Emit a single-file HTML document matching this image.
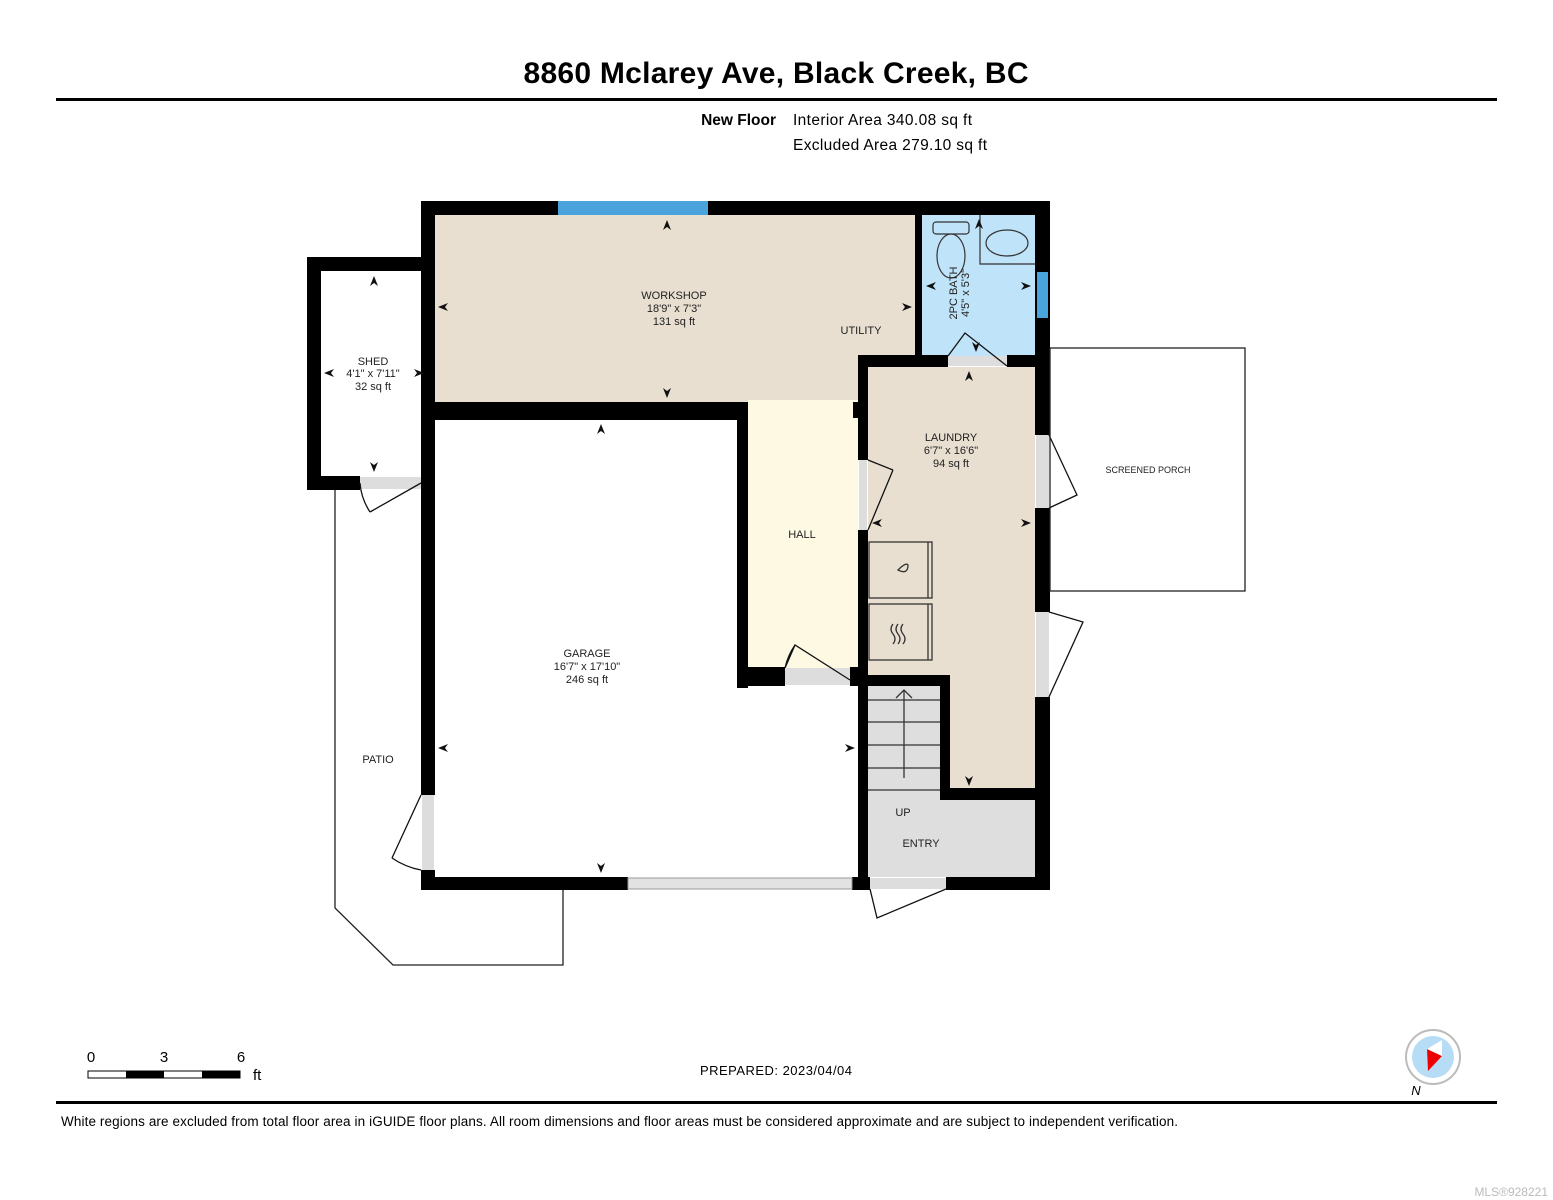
<!DOCTYPE html>
<html><head><meta charset="utf-8"><style>
html,body{margin:0;padding:0;background:#fff;}
svg{display:block;font-family:"Liberation Sans",Arial,sans-serif;}
</style></head><body>
<svg width="1553" height="1200" viewBox="0 0 1553 1200" xmlns="http://www.w3.org/2000/svg">
<text x="776" y="83" font-size="30" font-weight="bold" text-anchor="middle" textLength="505">8860 Mclarey Ave, Black Creek, BC</text>
<rect x="56" y="98" width="1441" height="3" fill="#000"/>
<text x="776" y="125" font-size="15.5" font-weight="bold" text-anchor="end">New Floor</text>
<text x="793" y="125" font-size="15.5" textLength="179">Interior Area 340.08 sq ft</text>
<text x="793" y="150" font-size="15.5" textLength="194">Excluded Area 279.10 sq ft</text>

<rect x="435" y="215" width="480" height="187" fill="#e8dfd0"/>
<rect x="748" y="400" width="110" height="268" fill="#fdf9e3"/>
<rect x="922" y="215" width="113" height="142" fill="#bfe3f8"/>
<rect x="868" y="367" width="167" height="423" fill="#e8dfd0"/>
<rect x="868" y="686" width="72" height="114" fill="#dedede"/>
<rect x="868" y="800" width="167" height="77" fill="#dedede"/>
<g stroke="#333" stroke-width="1.3" fill="none">
<line x1="868" y1="700" x2="940" y2="700"/><line x1="868" y1="722" x2="940" y2="722"/>
<line x1="868" y1="745" x2="940" y2="745"/><line x1="868" y1="768" x2="940" y2="768"/>
<line x1="868" y1="790" x2="940" y2="790"/>
<line x1="904" y1="778" x2="904" y2="690"/><polyline points="896,698 904,690 912,698"/>
</g>
<g stroke="#333" stroke-width="1.3" fill="#e8dfd0">
<rect x="869" y="542" width="63" height="56"/><line x1="928" y1="542" x2="928" y2="598"/>
<rect x="869" y="604" width="63" height="56"/><line x1="928" y1="604" x2="928" y2="660"/>
<path d="M898 570 q8 -8 10 -5 q0 10 -10 5z"/>
<path d="M893 624 q-4 5 0 10 q4 5 0 10 M898 624 q-4 5 0 10 q4 5 0 10 M903 624 q-4 5 0 10 q4 5 0 10" fill="none"/>
</g>
<g stroke="#333" stroke-width="1.2" fill="#bfe3f8">
<rect x="933" y="222" width="36" height="12" rx="3"/>
<ellipse cx="951" cy="256" rx="14" ry="22"/>
<polyline points="980,215 980,264 1035,264" fill="none"/>
<ellipse cx="1007" cy="243" rx="21" ry="13"/>
</g>
<g fill="#000">
<rect x="421" y="201" width="629" height="14"/>
<rect x="1035" y="201" width="15" height="234"/>
<rect x="1035" y="508" width="15" height="104"/>
<rect x="1035" y="697" width="15" height="193"/>
<rect x="421" y="201" width="14" height="219"/>
<rect x="307" y="257" width="128" height="14"/>
<rect x="307" y="257" width="14" height="233"/>
<rect x="307" y="476" width="53" height="14"/>
<rect x="421" y="420" width="14" height="375"/>
<rect x="421" y="870" width="14" height="20"/>
<rect x="421" y="877" width="207" height="13"/>
<rect x="852" y="877" width="18" height="13"/>
<rect x="946" y="877" width="104" height="13"/>
<rect x="435" y="402" width="313" height="18"/>
<rect x="737" y="402" width="11" height="286"/>
<rect x="737" y="667" width="48" height="19"/>
<rect x="850" y="667" width="18" height="19"/>
<rect x="915" y="215" width="7" height="142"/>
<rect x="860" y="355" width="88" height="12"/>
<rect x="1007" y="355" width="28" height="12"/>
<rect x="858" y="355" width="10" height="105"/>
<rect x="853" y="402" width="6" height="16"/>
<rect x="858" y="530" width="10" height="360"/>
<rect x="858" y="675" width="92" height="11"/>
<rect x="940" y="675" width="10" height="125"/>
<rect x="940" y="788" width="95" height="12"/>
</g>
<rect x="558" y="201" width="150" height="14" fill="#4aa3da"/>
<rect x="1037" y="272" width="11" height="46" fill="#4aa3da"/>
<rect x="628" y="878" width="224" height="11" fill="#e2e2e2" stroke="#999" stroke-width="1"/>
<g fill="#ddd">
<rect x="360" y="477" width="61" height="12"/>
<rect x="422" y="795" width="12" height="75"/>
<rect x="785" y="668" width="65" height="17"/>
<rect x="859" y="460" width="8" height="70"/>
<rect x="948" y="356" width="59" height="10"/>
<rect x="1036" y="435" width="13" height="73"/>
<rect x="1036" y="612" width="13" height="85"/>
<rect x="870" y="878" width="76" height="11"/>
</g>
<g stroke="#111" stroke-width="1.3" fill="none">
<path d="M421 483 L370 512 M360 483 A61 61 0 0 0 370 512"/>
<path d="M421 795 L392 858 M421 870 A75 75 0 0 1 392 858"/>
<path d="M785 668 L795 645 L850 680 M785 668 A65 65 0 0 1 795 645" />
<path d="M868 460 L893 470 M868 530 L893 470"/>
<path d="M948 356 L965 333 L1007 366"/>
<path d="M1049 435 L1077 495 L1049 508"/>
<path d="M1049 612 L1083 622 L1049 697"/>
<path d="M870 889 L877 918 L946 889"/>
</g>
<rect x="1050" y="348" width="195" height="243" fill="none" stroke="#222" stroke-width="1.3"/>
<polyline points="335,490 335,908 393,965 563,965 563,890" fill="none" stroke="#222" stroke-width="1.3"/>
<g fill="#111">
<path d="M667 220 l-4 10 l4 -3 l4 3z"/><path d="M667 398 l-4 -10 l4 3 l4 -3z"/>
<path d="M438 307 l10 -4 l-3 4 l3 4z"/><path d="M912 307 l-10 -4 l3 4 l-3 4z"/>
<path d="M374 276 l-4 10 l4 -3 l4 3z"/><path d="M374 472 l-4 -10 l4 3 l4 -3z"/>
<path d="M324 373 l10 -4 l-3 4 l3 4z"/><path d="M424 373 l-10 -4 l3 4 l-3 4z"/>
<path d="M601 424 l-4 10 l4 -3 l4 3z"/><path d="M601 873 l-4 -10 l4 3 l4 -3z"/>
<path d="M438 748 l10 -4 l-3 4 l3 4z"/><path d="M855 748 l-10 -4 l3 4 l-3 4z"/>
<path d="M969 371 l-4 10 l4 -3 l4 3z"/><path d="M969 786 l-4 -10 l4 3 l4 -3z"/>
<path d="M872 523 l10 -4 l-3 4 l3 4z"/><path d="M1031 523 l-10 -4 l3 4 l-3 4z"/>
<path d="M979 219 l-4 10 l4 -3 l4 3z"/><path d="M976 352 l-4 -10 l4 3 l4 -3z"/>
<path d="M926 286 l10 -4 l-3 4 l3 4z"/><path d="M1031 286 l-10 -4 l3 4 l-3 4z"/>
</g>
<g font-size="11" text-anchor="middle" fill="#222">
<text x="674" y="299">WORKSHOP</text><text x="674" y="312">18'9" x 7'3"</text><text x="674" y="325">131 sq ft</text>
<text x="861" y="334">UTILITY</text>
<text x="373" y="365">SHED</text><text x="373" y="377">4'1" x 7'11"</text><text x="373" y="390">32 sq ft</text>
<text x="951" y="441">LAUNDRY</text><text x="951" y="454">6'7" x 16'6"</text><text x="951" y="467">94 sq ft</text>
<text x="802" y="538">HALL</text>
<text x="587" y="657">GARAGE</text><text x="587" y="670">16'7" x 17'10"</text><text x="587" y="683">246 sq ft</text>
<text x="378" y="763">PATIO</text>
<text x="903" y="816">UP</text><text x="921" y="847">ENTRY</text>
<text x="1148" y="473" font-size="9">SCREENED PORCH</text>
<text transform="translate(957 293) rotate(-90)">2PC BATH</text>
<text transform="translate(969 293) rotate(-90)">4'5" x 5'3"</text>
</g>
<rect x="88" y="1071" width="152" height="7" fill="#fff" stroke="#000" stroke-width="1"/>
<rect x="126" y="1071" width="38" height="7" fill="#000"/>
<rect x="202" y="1071" width="38" height="7" fill="#000"/>
<g font-size="15"><text x="91" y="1062" text-anchor="middle">0</text><text x="164" y="1062" text-anchor="middle">3</text><text x="241" y="1062" text-anchor="middle">6</text><text x="253" y="1080">ft</text></g>
<text x="776" y="1075" font-size="13" text-anchor="middle" textLength="152">PREPARED: 2023/04/04</text>
<circle cx="1433" cy="1057" r="27" fill="#fff" stroke="#bbb" stroke-width="2"/>
<circle cx="1433" cy="1057" r="21" fill="#b7dcf5"/>
<path d="M1428 1071 L1442 1056 L1427 1049z" fill="#e00"/>
<path d="M1442 1056 L1442 1040 L1427 1049z" fill="#fff"/>
<text x="1416" y="1095" font-size="13" font-style="italic" text-anchor="middle">N</text>
<rect x="56" y="1101" width="1441" height="3" fill="#000"/>
<text x="61" y="1126" font-size="13.5" textLength="1117">White regions are excluded from total floor area in iGUIDE floor plans. All room dimensions and floor areas must be considered approximate and are subject to independent verification.</text>
<text x="1548" y="1196" font-size="12" fill="#bbb" text-anchor="end">MLS®928221</text>
</svg>
</body></html>
